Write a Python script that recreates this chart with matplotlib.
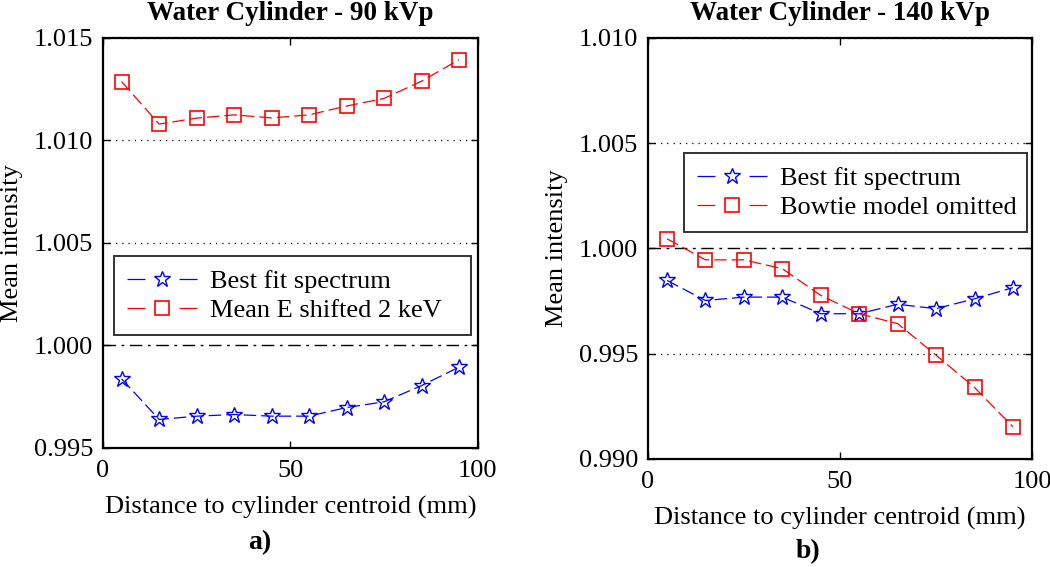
import numpy as np
import matplotlib
matplotlib.use("Agg")
import matplotlib.pyplot as plt

plt.rcParams['font.family'] = ['Liberation Serif', 'DejaVu Serif']

distance = [5, 15, 25, 35, 45, 55, 65, 75, 85, 95]

# panel a) 90 kVp
best_fit_90 = [0.99837, 0.99639, 0.99655, 0.99663, 0.99655, 0.99655, 0.99697, 0.99725, 0.99804, 0.99894]
shifted_90 = [1.01287, 1.0108, 1.01109, 1.01125, 1.0111, 1.01125, 1.01168, 1.01205, 1.01289, 1.01394]

# panel b) 140 kVp
best_fit_140 = [0.99848, 0.99753, 0.99769, 0.99769, 0.9969, 0.9969, 0.99735, 0.99714, 0.99761, 0.99814]
bowtie_140 = [1.00046, 0.99946, 0.99946, 0.99904, 0.99777, 0.9969, 0.99643, 0.99493, 0.9934, 0.99153]

fs = 19

fig = plt.figure(figsize=(10.5, 5.67), dpi=100)
ax1 = fig.add_axes([0.098, 0.210, 0.357, 0.723])
ax2 = fig.add_axes([0.617, 0.1905, 0.366, 0.7425])


def style_axes(ax, yticks, title, red_label, red_y, blue_y, leg_box):
    ax.plot(distance, blue_y, color='blue', lw=0.9, marker='*', ms=12,
            mfc='none', mec='blue', mew=1.0, dashes=(10, 4), label='Best fit spectrum')
    ax.plot(distance, red_y, color='red', lw=0.9, marker='s', ms=10.5,
            mfc='none', mec='red', mew=1.2, dashes=(10, 4), label=red_label)
    ax.axhline(1.0, color='black', lw=1.0, ls=(0, (9, 4, 2, 4)), zorder=1)
    for yv in yticks:
        if abs(yv - 1.0) > 1e-9:
            ax.axhline(yv, color='black', lw=0.9, ls=(0, (1, 4)), zorder=1)
    ax.set_xlim(0, 100)
    ax.set_ylim(yticks[0], yticks[-1])
    ax.set_xticks([0, 50, 100])
    ax.set_yticks(yticks)
    ax.set_yticklabels(['%.3f' % v for v in yticks])
    ax.tick_params(direction='in', top=True, right=True, labelsize=fs, length=5, width=1)
    ax.tick_params(axis='x', pad=9)
    ax.tick_params(axis='y', pad=7)
    for s in ax.spines.values():
        s.set_linewidth(1.6)
    ax.set_title(title, fontsize=fs + 0.5, fontweight='bold', pad=13)
    ax.set_xlabel('Distance to cylinder centroid (mm)', fontsize=fs, labelpad=10)
    ax.set_ylabel('Mean intensity', fontsize=fs, labelpad=8)
    leg = ax.legend(loc='lower left', bbox_to_anchor=leg_box, mode='expand', fontsize=fs,
                    handlelength=2.65, frameon=True, fancybox=False,
                    edgecolor='black', borderpad=0.5, borderaxespad=0,
                    labelspacing=0.2, handletextpad=0.5)
    leg.get_frame().set_linewidth(1.4)
    # legend handle drawn as: dash, marker, dash
    for ln in leg.get_lines():
        ln.set_dashes((14.4, 27.2))
    return leg


style_axes(ax1, [0.995, 1.000, 1.005, 1.010, 1.015], 'Water Cylinder - 90 kVp',
           'Mean E shifted 2 keV', shifted_90, best_fit_90, (0.029, 0.2756, 0.952, 0.15))

style_axes(ax2, [0.990, 0.995, 1.000, 1.005, 1.010], 'Water Cylinder - 140 kVp',
           'Bowtie model omitted', bowtie_140, best_fit_140, (0.094, 0.539, 0.893, 0.15))

fig.text(260 / 1050, 1 - 543 / 567, 'a)', fontsize=fs + 1, fontweight='bold', ha='center', va='center')
fig.text(808 / 1050, 1 - 552 / 567, 'b)', fontsize=fs + 1, fontweight='bold', ha='center', va='center')

fig.savefig('out.png', dpi=100)
